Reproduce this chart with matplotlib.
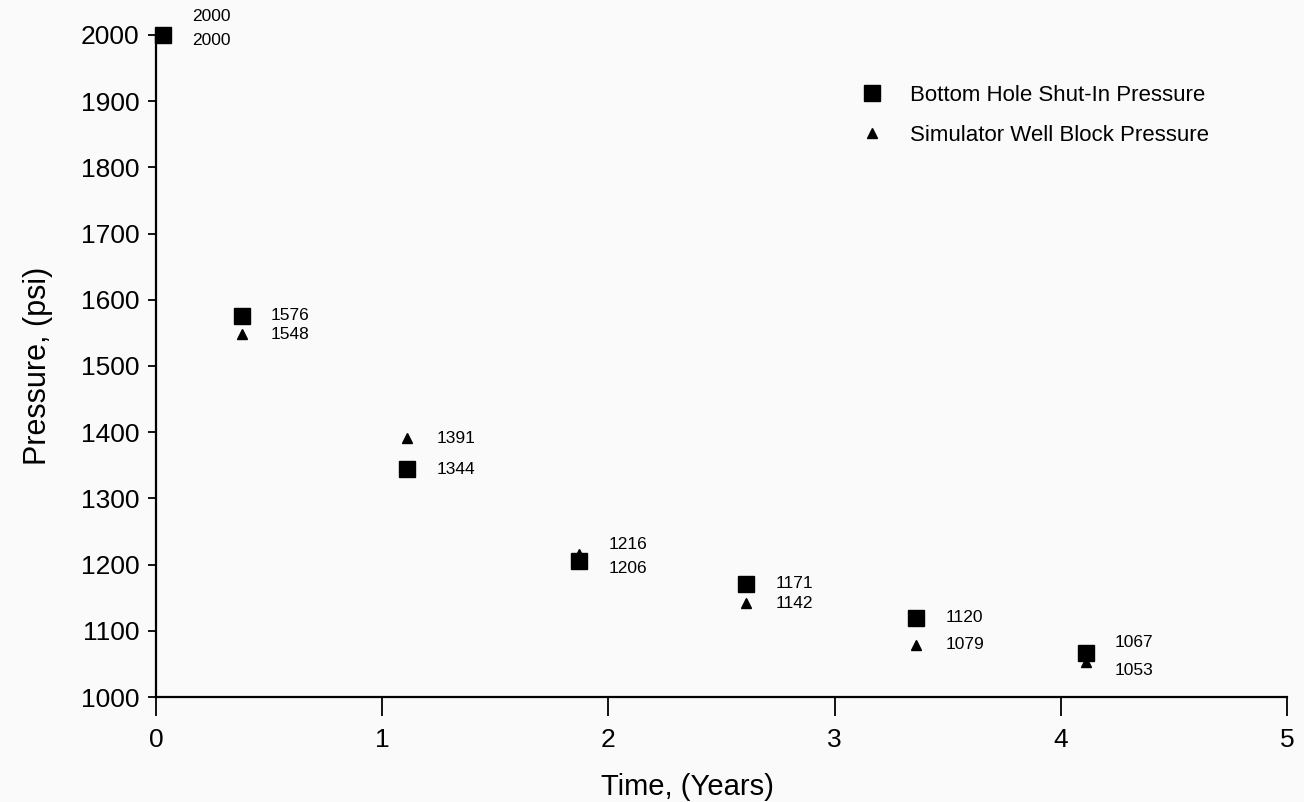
import matplotlib
matplotlib.use("Agg")
import matplotlib.pyplot as plt

plt.rcParams['font.family'] = ['Liberation Sans', 'DejaVu Sans']

# data
time_years = [0.03, 0.38, 1.11, 1.87, 2.61, 3.36, 4.11]
bhp_psi = [2000, 1576, 1344, 1206, 1171, 1120, 1067]
sim_psi = [2000, 1548, 1391, 1216, 1142, 1079, 1053]
bhp_name = "Bottom Hole Shut-In Pressure"
sim_name = "Simulator Well Block Pressure"

fig = plt.figure(figsize=(13.04, 8.02), dpi=100, facecolor='#fafafa')
ax = fig.add_axes([0.1196, 0.1309, 0.8674, 0.8255])
ax.set_facecolor('#fafafa')

ax.plot(time_years, bhp_psi, ls='none', marker='s', ms=11, color='black',
        label=bhp_name, zorder=3, clip_on=False)
ax.plot(time_years, sim_psi, ls='none', marker='^', ms=7, color='black',
        label=sim_name, zorder=3, clip_on=False)

# data labels, pushed apart where the two series sit close together
for t, b, s in zip(time_years, bhp_psi, sim_psi):
    diff = abs(b - s)
    if diff == 0:
        dy_hi, dy_lo = 13, -4
    elif diff < 20:
        dy_hi, dy_lo = 7, -6
    else:
        dy_hi, dy_lo = 0, 0
    hi, lo = (b, s) if b >= s else (s, b)
    ax.annotate(str(hi), xy=(t, hi), xytext=(21, dy_hi), textcoords='offset points',
                ha='left', va='center', fontsize=12.5)
    ax.annotate(str(lo), xy=(t, lo), xytext=(21, dy_lo), textcoords='offset points',
                ha='left', va='center', fontsize=12.5)

ax.set_xlim(0, 5)
ax.set_ylim(1000, 2000)
ax.set_xticks(range(0, 6))
ax.set_yticks(range(1000, 2001, 100))
for side in ['top', 'right']:
    ax.spines[side].set_visible(False)
for side in ['left', 'bottom']:
    ax.spines[side].set_linewidth(1.6)
ax.tick_params(axis='x', direction='out', length=14, width=1.3, labelsize=19, pad=8)
ax.tick_params(axis='y', direction='out', length=6, width=1.3, labelsize=19, pad=6)

ax.set_xlabel("Time, (Years)", fontsize=21, labelpad=2)
ax.xaxis.set_label_coords(0.47, -0.115)
ax.set_ylabel("Pressure, (psi)", fontsize=22, labelpad=20)

ax.legend(loc='upper left', bbox_to_anchor=(0.596, 0.955), frameon=False,
          fontsize=16, labelspacing=0.85, handletextpad=0.7, numpoints=1)

fig.savefig("out.png", dpi=100, facecolor=fig.get_facecolor())
